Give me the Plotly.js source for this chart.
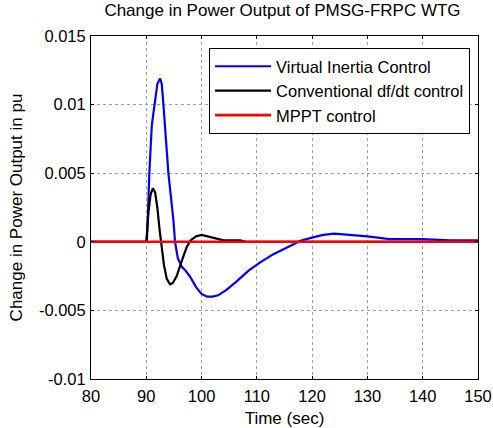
<!DOCTYPE html>
<html><head><meta charset="utf-8">
<script src="https://cdn.plot.ly/plotly-3.0.1.min.js"></script>
<style>html,body{margin:0;padding:0;background:#fff}#c{width:493px;height:428px}</style>
</head><body><div id="c"></div>
<script>
const viTime = [80,90.1,90.3,90.55,91.0,91.6,92.0,92.5,92.8,93.1,94.0,94.9,95.2,95.7,96.4,97.1,98,99,100,101,102,103,104.5,106.3,108.5,110.6,113,115,117,118,120,122,124,127,130,134,140,145,150];
const viValue = [0,0,0.002,0.005,0.0085,0.0103,0.0115,0.0119,0.0115,0.010,0.005,0.0016,0,-0.0012,-0.0018,-0.0021,-0.0026,-0.0033,-0.0038,-0.0040,-0.0040,-0.0039,-0.0035,-0.0029,-0.0021,-0.0015,-0.0009,-0.0005,-0.0001,0.0001,0.0003,0.0005,0.0006,0.0005,0.0004,0.0002,0.0002,0.0001,0.0001];
const dfTime = [80,90,90.1,90.4,90.8,91.2,91.6,92.0,92.4,92.7,93.2,93.7,94.3,94.8,95.5,96.5,97.3,98,99,100,101,102,104,106,107,108,150];
const dfValue = [0,0,0.0005,0.0022,0.0035,0.0039,0.0036,0.0025,0.0009,0,-0.0017,-0.0027,-0.0031,-0.0030,-0.0025,-0.0013,-0.0004,0.0001,0.0004,0.0005,0.0004,0.0003,0.0001,0.0001,0.0001,0,0];
const mpptTime = [80,150];
const mpptValue = [0,0];
const seriesNames = ['Virtual Inertia Control','Conventional df/dt control','MPPT control'];
const xTicks = [80,90,100,110,120,130,140,150];
const yTicks = [-0.01,-0.005,0,0.005,0.01,0.015];
const yTickLabels = ['-0.01','-0.005','0','0.005','0.01','0.015'];

const traces = [
  {x: viTime, y: viValue, name: seriesNames[0], mode:'lines', line:{color:'#0000ff', width:2.2}},
  {x: dfTime, y: dfValue, name: seriesNames[1], mode:'lines', line:{color:'#000000', width:2.2}},
  {x: mpptTime, y: mpptValue, name: seriesNames[2], mode:'lines', line:{color:'#ff0000', width:2.6}}
];
const fam = 'Liberation Sans, Arial, sans-serif';
const layout = {
  width:493, height:428,
  margin:{l:91, r:15, t:36, b:49},
  paper_bgcolor:'#fff', plot_bgcolor:'#fff',
  font: {family:fam, size:16.5, color:'#000'},
  showlegend:true,
  title:{text:'Change in Power Output of PMSG-FRPC WTG', font:{family:fam, size:17, color:'#000'}, x:0.573, xanchor:'center', y:0.99, yanchor:'top'},
  xaxis:{range:[80,150], tickvals:xTicks, ticks:'inside', ticklen:3, tickcolor:'#000', showline:true, linecolor:'#000', linewidth:1, mirror:'ticks',
    showgrid:true, gridcolor:'#a0a0a0', griddash:'dot', gridwidth:1, zeroline:false, ticklabelstandoff:2,
    title:{text:'Time (sec)', font:{size:17}, standoff:9}, tickfont:{size:16.5}},
  yaxis:{range:[-0.01,0.015], tickvals:yTicks, ticktext:yTickLabels, ticks:'inside', ticklen:3, tickcolor:'#000', showline:true, linecolor:'#000', linewidth:1, mirror:'ticks',
    showgrid:true, gridcolor:'#a0a0a0', griddash:'dot', gridwidth:1, zeroline:false, ticklabelstandoff:1,
    title:{text:'Change in Power Output in pu', font:{size:17}, standoff:11}, tickfont:{size:16.5}},
  legend:{x:0.305, y:0.965, xanchor:'left', yanchor:'top', bgcolor:'#fff', bordercolor:'#000', borderwidth:1,
    font:{size:16.5}, tracegroupgap:0, itemwidth:56}
};
Plotly.newPlot('c', traces, layout, {displayModeBar:false, staticPlot:true});
</script></body></html>
